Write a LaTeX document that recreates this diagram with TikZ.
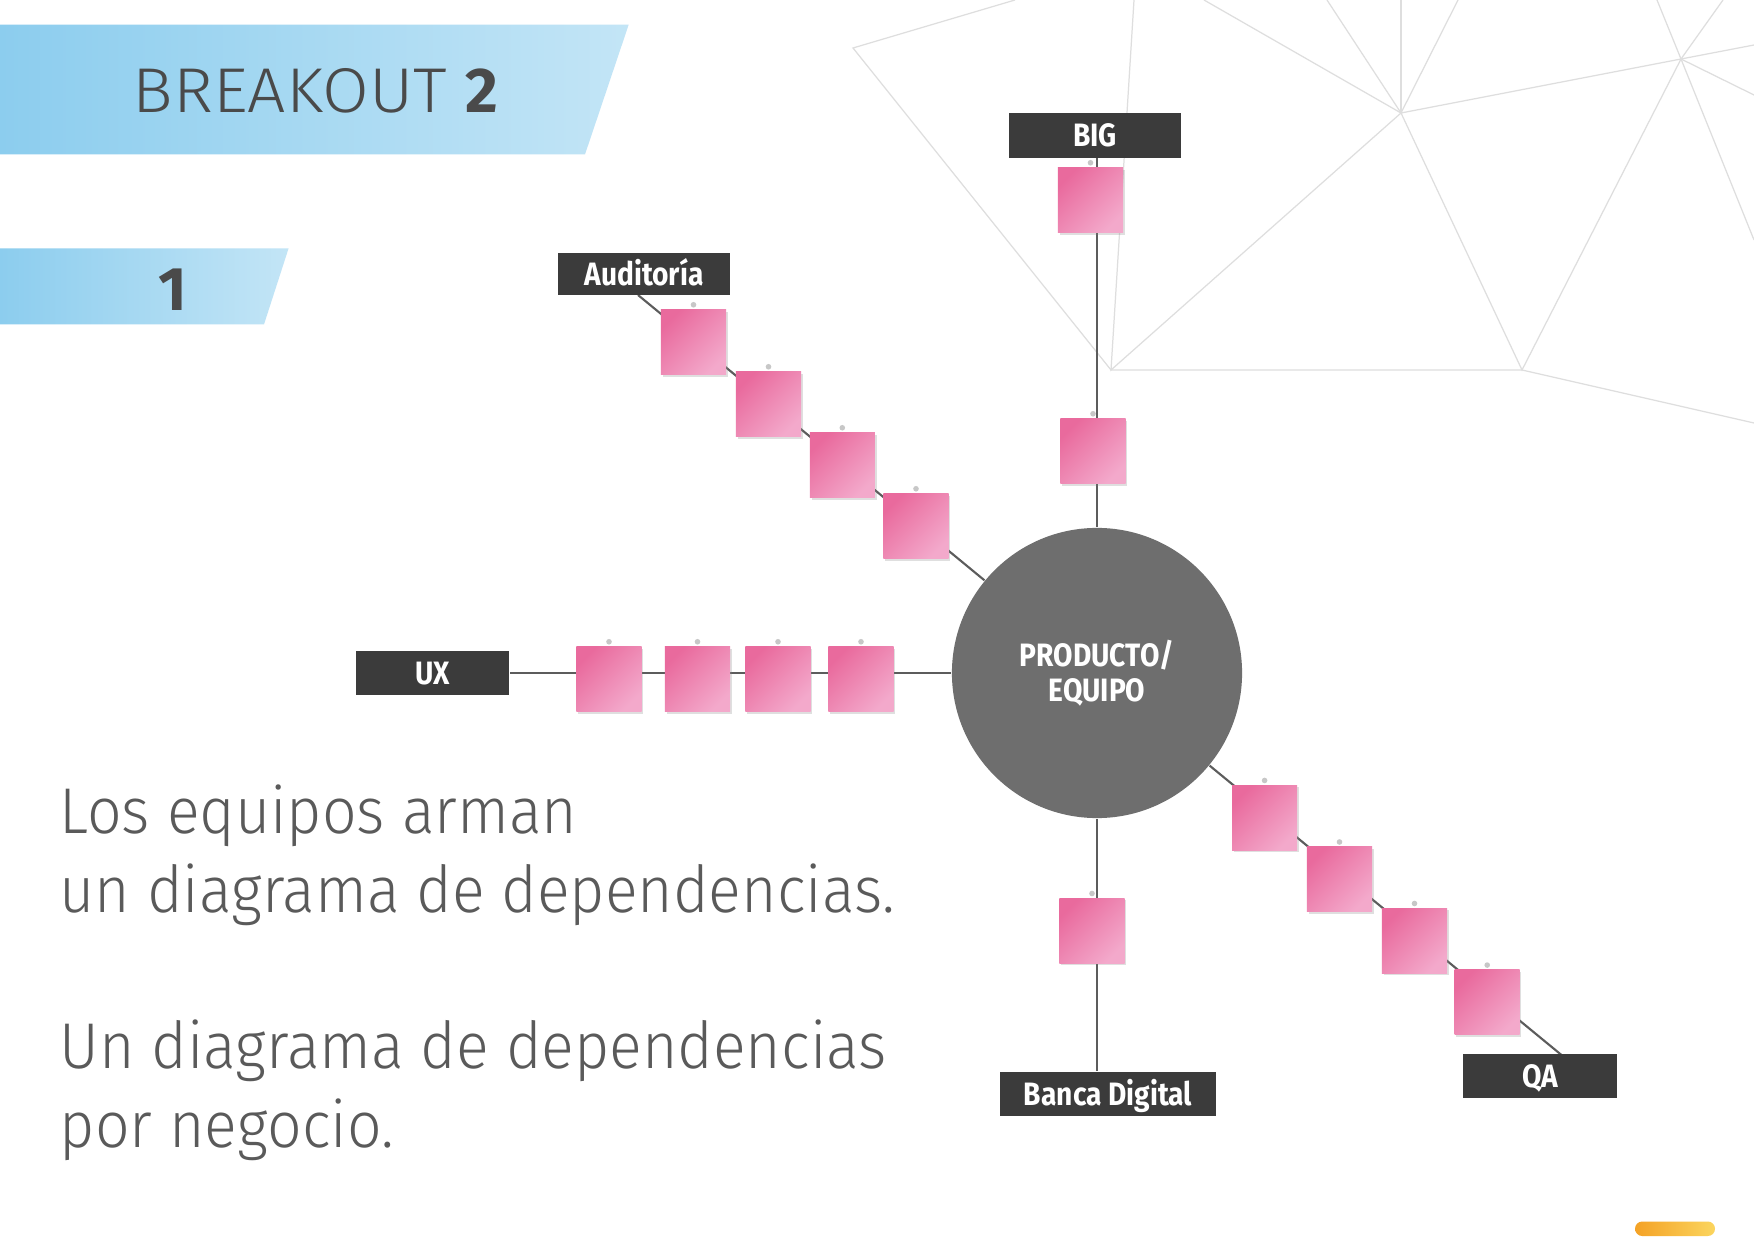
\documentclass[tikz,border=0pt]{standalone}
\usepackage{fontspec}
\setmainfont{Fira Sans}
\newfontfamily\lightfont[FakeStretch=0.94]{Fira Sans Light}
\newfontfamily\titlefont[FakeStretch=1.07]{Fira Sans Light}
\newfontfamily\tagfont[FakeStretch=0.87]{Fira Sans}
\usetikzlibrary{positioning,shadows,backgrounds}

\definecolor{bannerdark}{HTML}{8CCDEE}
\definecolor{bannerlight}{HTML}{C3E5F6}
\definecolor{inkgray}{HTML}{4A4A4A}
\definecolor{bodygray}{HTML}{5A5A5A}
\definecolor{tagfill}{HTML}{3B3B3B}
\definecolor{hubfill}{HTML}{6E6E6E}
\definecolor{notedark}{HTML}{E96A9D}
\definecolor{notelight}{HTML}{F3A9CB}
\definecolor{meshgray}{HTML}{DEDEDE}
\definecolor{linkgray}{HTML}{5C5C5C}
\definecolor{barorange}{HTML}{F4A226}
\definecolor{baryellow}{HTML}{FBD55E}

\begin{document}
\begin{tikzpicture}[x=0.01cm,y=-0.01cm,
    stickynote/.style={minimum size=0.65cm,inner sep=0pt,left color=notedark,right color=notelight,shading angle=45,
      drop shadow={shadow xshift=0.5pt,shadow yshift=-0.6pt,opacity=0.25}},
    tagbox/.style={fill=tagfill,text=white,inner sep=0pt,minimum height=0.44cm,text height=6.6pt,text depth=0.3pt,
      font=\tagfont\bfseries\fontsize{9.2}{10}\selectfont},
    hubnode/.style={circle,fill=hubfill,minimum size=2.9cm,inner sep=0pt,text=white,align=center,
      font=\tagfont\bfseries\fontsize{9.2}{9.9}\selectfont},
    link/.style={draw=linkgray,line width=0.6pt},
    meshline/.style={draw=meshgray,line width=0.35pt},
    pin/.style={fill=black!22}]

  \useasboundingbox (0,0) rectangle (1754,1258);

  % background mesh
  \begin{scope}[on background layer]
    \fill[white] (0,0) rectangle (1754,1258);
    \draw[meshline] (1015,0) -- (853,48) -- (1111,370) -- (1522,370) -- (1754,423);
    \draw[meshline] (1134,0) -- (1111,370) -- (1401,113) -- (1522,370) -- (1681,59) -- (1401,113);
    \foreach \t in {1204,1327,1401,1458}
      \draw[meshline] (\t,0) -- (1401,113);
    \foreach \p in {(1657,0),(1723,0),(1754,45),(1754,95),(1754,240)}
      \draw[meshline] (1681,59) -- \p;
  \end{scope}

  % banners
  \shade[left color=bannerdark,right color=bannerlight] (0,24.6) -- (628.7,24.6) -- (585,154.4) -- (0,154.4) -- cycle;
  \shade[left color=bannerdark,right color=bannerlight] (0,248.3) -- (288.6,248.3) -- (264,324.4) -- (0,324.4) -- cycle;
  \path (132,113) node[anchor=base west,inner sep=0pt,text=inkgray,font=\fontsize{18}{20}\selectfont] (title)
    {\titlefont BREAKOUT {\normalfont\bfseries 2}};
  \path (173,311) node[anchor=base,inner sep=0pt,text=inkgray,font=\bfseries\fontsize{17.5}{20}\selectfont] (step1) {1};

  % hub and tags
  \path (1097,673) node[hubnode] (hub) {PRODUCTO/\\EQUIPO};
  \path (1095,135.5) node[tagbox,minimum width=1.72cm] (big) {BIG};
  \path (644,274) node[tagbox,minimum width=1.72cm,minimum height=0.42cm] (aud) {Auditoría};
  \path (432.5,673) node[tagbox,minimum width=1.53cm] (ux) {UX};
  \path (1108,1094) node[tagbox,minimum width=2.16cm] (banca) {Banca Digital};
  \path (1540,1076) node[tagbox,minimum width=1.53cm] (qa) {QA};

  % sticky notes
  \foreach \x/\y/\n in {1090.5/200/b1, 1093/451/b2,
      693.5/342/a1, 768.5/404/a2, 842.3/465/a3, 916/526/a4,
      609/679/u1, 697.5/679/u2, 778/679/u3, 861/679/u4,
      1092/930.7/d1,
      1264.6/817.7/q1, 1339.5/879.2/q2, 1414.5/940.7/q3, 1487.2/1002.3/q4}{
    \path (\x,\y) node[stickynote] (\n) {};
    \fill[pin] (\n.north) ++(0,-4) circle (0.28mm);
  }

  % connectors
  \coordinate (audfoot) at (638,295);
  \coordinate (qafoot) at (1570,1062);
  \begin{scope}[on background layer]
    \draw[link] (hub) -- (hub |- big.south);
    \draw[link] (hub) -- (audfoot);
    \draw[link] (hub) -- (ux);
    \draw[link] (hub) -- (hub |- banca.north);
    \draw[link] (hub) -- (qafoot);
  \end{scope}

  % text
  \foreach \y/\txt [count=\i] in {833/Los equipos arman, 912/un diagrama de dependencias.,
      1068/Un diagrama de dependencias, 1147/por negocio.}
    \path (59,\y) node[anchor=base west,inner sep=0pt,text=bodygray,font=\lightfont\fontsize{18.4}{22.5}\selectfont] (line\i) {\txt};

  \shade[left color=barorange,right color=baryellow,rounded corners=0.72mm] (1635,1221.5) rectangle (1715,1236);
\end{tikzpicture}
\end{document}
